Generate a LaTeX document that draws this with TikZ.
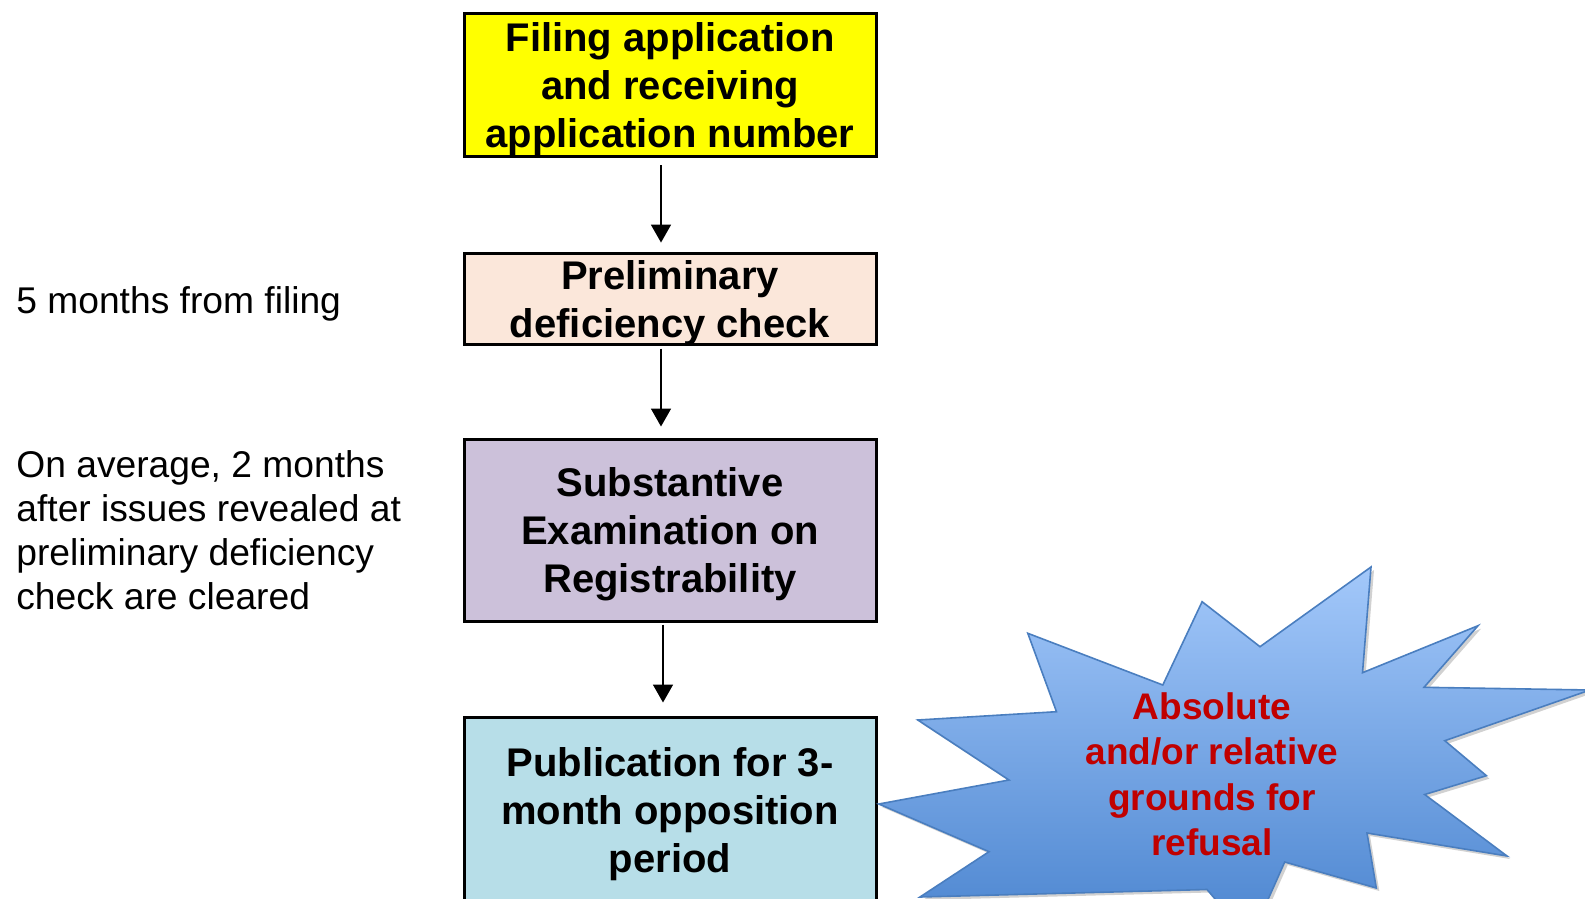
\documentclass[tikz,border=0pt]{standalone}
\usepackage{fontspec}
\setmainfont{Liberation Sans}
\usetikzlibrary{arrows.meta}
\definecolor{boxyellow}{HTML}{FFFF00}
\definecolor{boxpeach}{HTML}{FBE7DA}
\definecolor{boxlilac}{HTML}{CCC1DA}
\definecolor{boxblue}{HTML}{B7DEE8}
\definecolor{burstTop}{HTML}{A3C8FA}
\definecolor{burstBot}{HTML}{4A84CF}
\definecolor{burstEdge}{HTML}{4A7EBF}
\definecolor{burstText}{HTML}{C00000}
\begin{document}
\begin{tikzpicture}[x=0.5pt,y=-0.5pt,
  flowbox/.style={draw=black,line width=1.5pt,minimum width=206pt,align=center,
    font=\fontsize{20}{24}\selectfont\bfseries,inner sep=0pt,text depth=0pt},
  flowarrow/.style={-{Triangle[width=10pt,length=9pt]},line width=0.9pt},
  sidenote/.style={align=left,anchor=west,font=\fontsize{18.6}{22}\selectfont,inner sep=0pt},
  burstlabel/.style={align=center,text=burstText,font=\fontsize{18.5}{22.75}\selectfont\bfseries,inner sep=0pt}]
\useasboundingbox (0,0) rectangle (1585,899);
\clip (0,0) rectangle (1585,899);

% flow boxes
\node[flowbox,fill=boxyellow,minimum height=71.75pt] (filing) at (670,85)
  {Filing application\\and receiving\\application number};
\node[flowbox,fill=boxpeach,minimum height=45.35pt] (prelim) at (670,298.9)
  {Preliminary\\deficiency check};
\node[flowbox,fill=boxlilac,minimum height=91pt] (subst) at (670,530.5)
  {Substantive\\Examination on\\Registrability};
\node[flowbox,fill=boxblue,minimum height=92.5pt] (pub) at (670,810)
  {Publication for 3-\\month opposition\\period};

% connectors
\draw[flowarrow] ([xshift=-4.5pt,yshift=-3.5pt]filing.south) -- ([xshift=-4.5pt,yshift=4.75pt]prelim.north);
\draw[flowarrow] ([xshift=-4.5pt,yshift=-1.4pt]prelim.south) -- ([xshift=-4.5pt,yshift=5.75pt]subst.north);
\draw[flowarrow] ([xshift=-3.5pt,yshift=-0.75pt]subst.south) -- ([xshift=-3.5pt,yshift=6.75pt]pub.north);

% side notes
\node[sidenote] (fivemonths) at (16,304) {5 months from filing};
\node[sidenote] (avg) at (16,530) {On average, 2 months\\after issues revealed at\\preliminary deficiency\\check are cleared};

% starburst
\def\burstpath{(1371,567) -- (1362.5,672.7) -- (1478,625.7) -- (1424,687.3) -- (1590,690)
  -- (1444.8,740.7) -- (1486.4,775.7) -- (1424.7,794.5) -- (1507,856) -- (1367,833)
  -- (1376.3,888) -- (1284.7,862) -- (1250,940) -- (1207,889.5) -- (920,897)
  -- (989,851.7) -- (878.8,804) -- (1009,780) -- (917.8,720) -- (1056.5,711.7)
  -- (1027.8,633.3) -- (1162.8,685) -- (1202.1,601.7) -- (1260,646.7) -- cycle}
\begin{scope}[xshift=1.5pt,yshift=-1.5pt]
  \fill[black,opacity=0.18] \burstpath;
\end{scope}
\shade[top color=burstTop,bottom color=burstBot] \burstpath;
\draw[burstEdge,line width=0.8pt,line join=miter] \burstpath;
\node[burstlabel] (refusal) at (1212,774.5) {Absolute\\and/or relative\\grounds for\\refusal};
\end{tikzpicture}
\end{document}
